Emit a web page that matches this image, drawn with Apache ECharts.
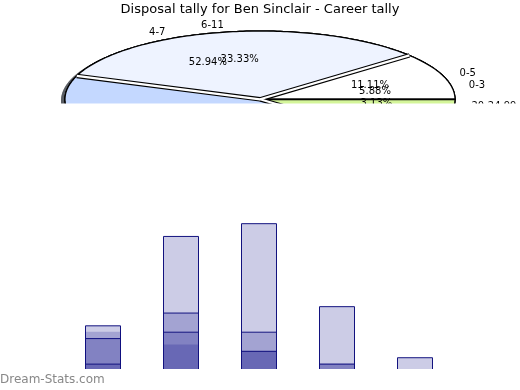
<!DOCTYPE html>
<html><head><meta charset="utf-8">
<script src="https://cdn.jsdelivr.net/npm/echarts@6/dist/echarts.min.js"></script>
<style>html,body{margin:0;padding:0;background:#fff}#c{width:520px;height:390px}</style>
</head><body><div id="c"></div>
<script>
// ---- data ----
const chartTitle = 'Disposal tally for Ben Sinclair - Career tally';
const pieANames = ['0-3', '4-7', '8-11', '12-15'];
const pieAValues = [1, 9, 5, 2];
const pieBNames = ['0-5', '6-11', '12-17', '18-23'];
const pieBValues = [1, 3, 4, 1];
const pieCNames = ['', '20-24.99'];
const pieCValues = [31, 1];
const barCategories = ['0-9', '10-19', '20-29', '30-39', '40+'];
const barSeries1 = [7, 21, 23, 10, 2];
const barSeries2 = [5, 9, 6, 1, 0];
const barSeries3 = [6, 4, 3, 1, 0];
const barSeries4 = [1, 6, 3, 0, 0];
const watermark = 'Dream-Stats.com';

// ---- pie geometry / style ----
const PIE = { cx: 260, cy: 99.3, rx: 195, k: 0.35 };
const sliceColors = ['#ffffff', '#eef3ff', '#c4d8ff', '#d4f59a'];
const FONT = '"DejaVu Sans", Verdana, sans-serif';

function pt(r, deg) {
  const a = deg * Math.PI / 180;
  return [PIE.cx + r * Math.cos(a), PIE.cy - r * PIE.k * Math.sin(a)];
}
function wedge(a0, a1, r, dx, dy) {
  const pts = [[PIE.cx + dx, PIE.cy + dy]];
  const n = Math.max(2, Math.ceil(a1 - a0));
  for (let i = 0; i <= n; i++) {
    const p = pt(r, a0 + (a1 - a0) * i / n);
    pts.push([p[0] + dx, p[1] + dy]);
  }
  return pts;
}
function hexToRgb(h) {
  const n = parseInt(h.slice(1), 16);
  return [(n >> 16) & 255, (n >> 8) & 255, n & 255];
}

function makePie(names, values, order, dividers) {
  const total = values.reduce((s, v) => s + v, 0);
  return {
    type: 'custom', coordinateSystem: 'none', silent: true, animation: false,
    data: values.map(v => [v]),
    renderItem(params, api) {
      const i = params.dataIndex;
      const v = api.value(0);
      let before = 0;
      for (let j = 0; j < i; j++) before += values[j];
      const a0 = before / total * 360, a1 = (before + v) / total * 360;
      const col = sliceColors[i % sliceColors.length];
      const rgb = hexToRgb(col).map(c => Math.round(c * 0.3));
      const children = [
        { type: 'polygon', z2: order, shape: { points: wedge(a0, a1, PIE.rx, -4, 1.5) },
          style: { fill: `rgba(${rgb[0]},${rgb[1]},${rgb[2]},0.5)`, stroke: null } },
        { type: 'polygon', z2: 10 + order, shape: { points: wedge(a0, a1, PIE.rx, 0, 0) },
          style: { fill: col, stroke: '#000', lineWidth: 1.2 } }
      ];
      if (dividers) {
        const pe = pt(PIE.rx, a0);
        if (a0 === 0) {
          children.push({ type: 'line', z2: 20, shape: { x1: PIE.cx, y1: PIE.cy, x2: pe[0], y2: pe[1] },
            style: { stroke: '#000', lineWidth: 1.8 } });
        } else {
          children.push({ type: 'line', z2: 20, shape: { x1: PIE.cx, y1: PIE.cy, x2: pe[0], y2: pe[1] },
            style: { stroke: '#000', lineWidth: 4.5 } });
          children.push({ type: 'line', z2: 21, shape: { x1: PIE.cx, y1: PIE.cy, x2: pe[0], y2: pe[1] },
            style: { stroke: '#fff', lineWidth: 2.2 } });
        }
      }
      if (names[i]) {
        const mid = (a0 + a1) / 2;
        const lp = pt(PIE.rx * 1.1, mid);
        const right = Math.cos(mid * Math.PI / 180) > 0;
        children.push({ type: 'text', z2: 30, x: lp[0] + (right ? -2 : 1), y: lp[1],
          style: { text: names[i], fill: '#000', font: '10px ' + FONT, align: right ? 'left' : 'right', verticalAlign: 'middle' } });
        const pp = pt(PIE.rx * 0.6, mid);
        children.push({ type: 'text', z2: 30, x: pp[0], y: pp[1],
          style: { text: (v / total * 100).toFixed(2) + '%', fill: '#000', font: '10px ' + FONT, align: 'center', verticalAlign: 'middle' } });
      }
      return { type: 'group', children };
    }
  };
}

const barFill = 'rgba(0,0,128,0.2)';
const barEdge = '#12127f';
function barSeries(name, data, bordered) {
  return {
    name, type: 'bar', data, barWidth: 36, barGap: '-100%', animation: false, silent: true,
    itemStyle: { color: barFill, borderColor: bordered ? barEdge : 'transparent', borderWidth: bordered ? 1 : 0 }
  };
}

const chart = echarts.init(document.getElementById('c'), null, { renderer: 'canvas' });
chart.setOption({
  backgroundColor: '#ffffff',
  animation: false,
  grid: { left: 64, right: 66, top: 178.5, bottom: 20 },
  xAxis: { type: 'category', data: barCategories, show: false },
  yAxis: { type: 'value', min: 0, max: 30, show: false, splitLine: { show: false } },
  series: [
    makePie(pieCNames, pieCValues, 0, false),
    makePie(pieANames, pieAValues, 1, false),
    makePie(pieBNames, pieBValues, 2, true),
    barSeries('s1', barSeries1, true),
    barSeries('s2', barSeries2, true),
    barSeries('s3', barSeries3, false),
    barSeries('s4', barSeries4, true)
  ],
  graphic: [
    { type: 'rect', z: 100, shape: { x: 0, y: 103.5, width: 520, height: 112 }, style: { fill: '#fff' } },
    { type: 'rect', z: 100, shape: { x: 0, y: 369, width: 520, height: 21 }, style: { fill: '#fff' } },
    { type: 'text', z: 101, x: 260, y: 10, style: { text: chartTitle, fill: '#000', font: '13px ' + FONT, align: 'center', verticalAlign: 'middle' } },
    { type: 'text', z: 101, x: 0, y: 380, style: { text: watermark, fill: '#888888', font: '12px ' + FONT, align: 'left', verticalAlign: 'middle' } }
  ]
});
</script>
</body></html>
